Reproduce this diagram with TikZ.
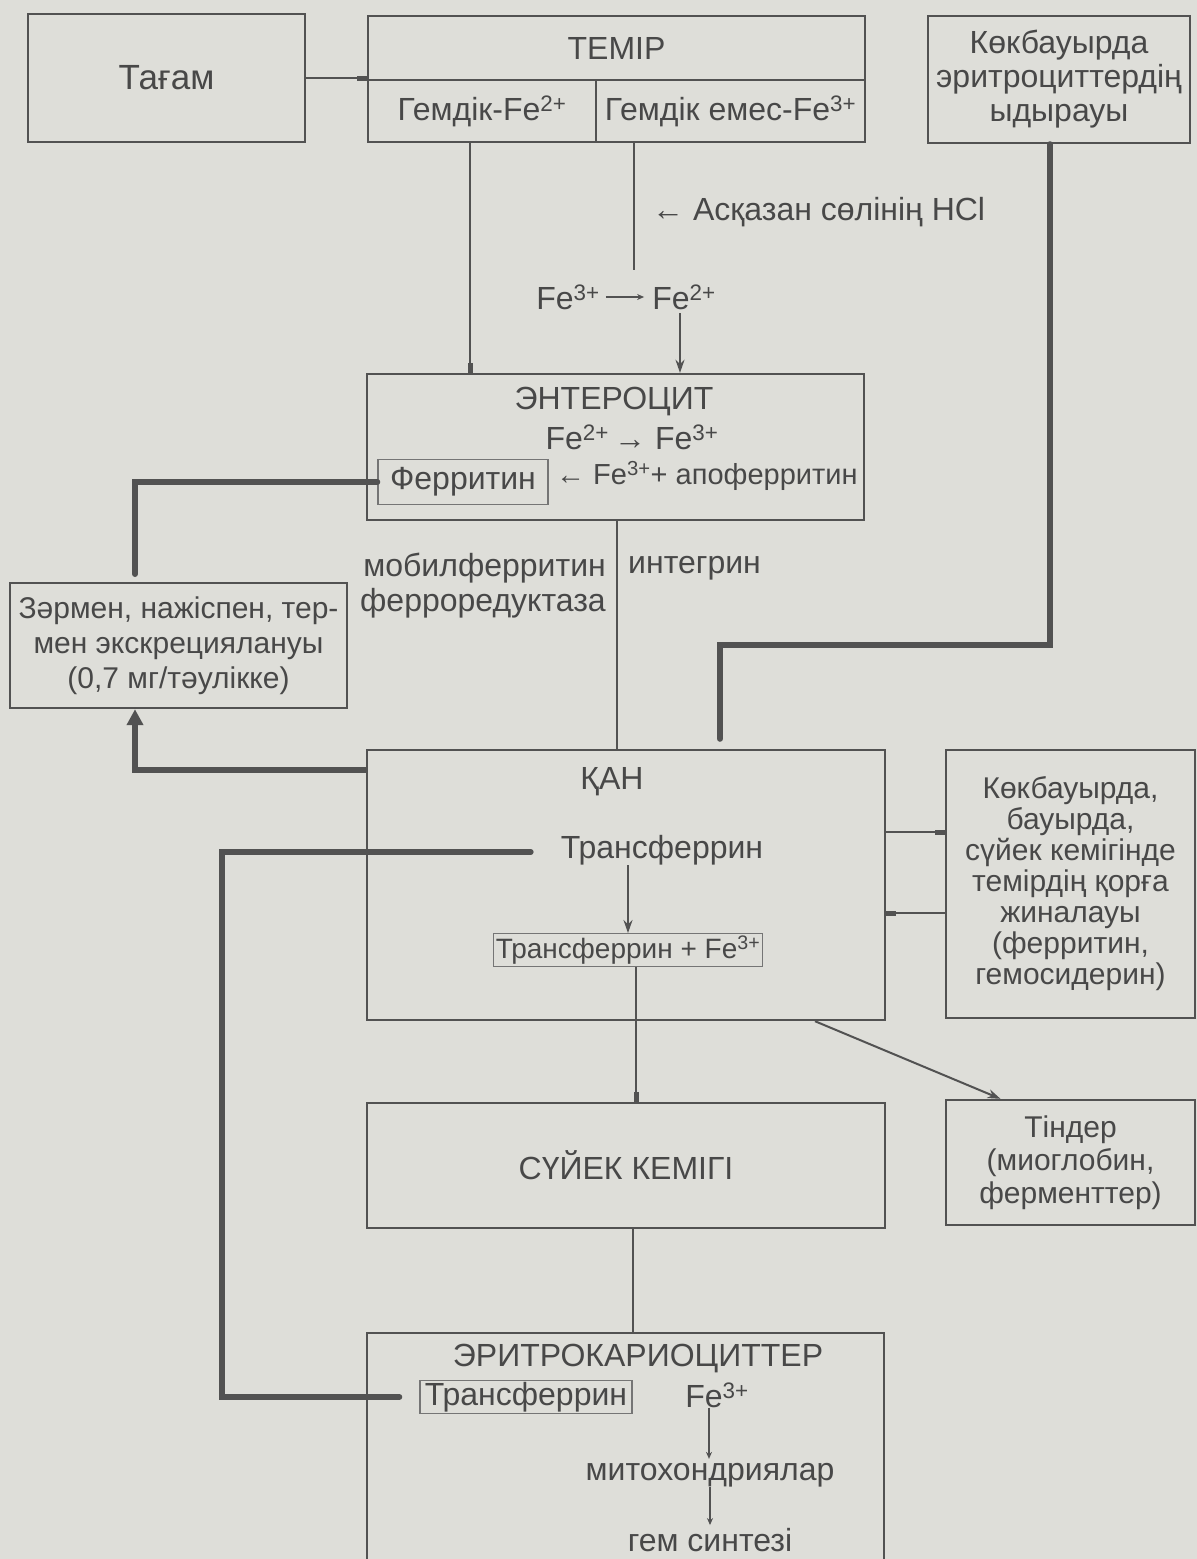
\documentclass[tikz,border=0pt]{standalone}
\usepackage{fontspec}
\setmainfont{Liberation Sans}
\usetikzlibrary{arrows.meta,calc}
\definecolor{paper}{RGB}{222,222,217}
\definecolor{ink}{RGB}{82,82,82}
\definecolor{txt}{RGB}{72,72,72}
\newcommand{\up}[1]{\textsuperscript{#1}}
\begin{document}
\begin{tikzpicture}[x=1pt,y=-1pt,
  font=\fontsize{32}{34}\selectfont, text=txt,
  box/.style={draw=ink, line width=2.4pt, inner sep=0pt, align=center},
  inbox/.style={draw=ink!80, line width=1.4pt, inner sep=3pt},
  lbl/.style={inner sep=0pt, align=center},
  wire/.style={draw=ink, line width=2pt},
  heavy/.style={draw=ink, line width=6pt},
  tip/.style={-{Stealth[length=13pt,width=9pt]}},
  smalltip/.style={-{Stealth[length=7pt,width=6pt]}},
  stub/.style={-{Rectangle[length=10pt,width=5pt]}},
  bigtip/.style={-{Triangle[length=16pt,width=16pt]}}]
% page
\useasboundingbox (0,0) rectangle (1197,1559);
\fill[paper] (0,0) rectangle (1197,1559);

% top row
\node[box, minimum width=277pt, minimum height=128pt, font=\fontsize{35}{38}\selectfont] (tagam) at (166.5,78) {Тағам};
\node[box, minimum width=497pt, minimum height=64pt] (temir) at (616.5,48) {ТЕМІР};
\node[box, minimum width=228pt, minimum height=62pt] (heme) at (482,111) {Гемдік-Fe\up{2+}};
\node[box, minimum width=269pt, minimum height=62pt] (nonheme) at (730.5,111) {Гемдік емес-Fe\up{3+}};
\node[box, minimum width=262pt, minimum height=127pt] (spleen) at (1059,79.5)
  {Көкбауырда\\эритроциттердің\\ыдырауы};

% reduction of non-heme iron
\node[lbl, anchor=west] (hcl) at (652,212) {← Асқазан сөлінің HCl};
\node[lbl] (feA) at (568,297) {Fe\up{3+}};
\node[lbl] (feB) at (684,297) {Fe\up{2+}};
\coordinate (hclstop) at (634,270);

% enterocyte
\node[box, minimum width=497pt, minimum height=146pt] (enter) at (615.5,447) {};
\node[lbl] (enterT) at (614,402) {ЭНТЕРОЦИТ};
\node[lbl] (enterFe) at (632,437) {Fe\up{2+}\,→ Fe\up{3+}};
\node[inbox, minimum width=170pt, minimum height=45pt] (ferritin) at (463,482) {Ферритин};
\node[lbl, anchor=west, font=\fontsize{29}{32}\selectfont] (apo) at (556,476) {← Fe\up{3+}+ апоферритин};

% transport labels
\node[lbl, anchor=east] (mob) at (606,568) {мобилферритин};
\node[lbl, anchor=west] (integ) at (628,568) {интегрин};
\node[lbl, anchor=east] (ferred) at (606,603) {ферроредуктаза};

% excretion
\node[box, minimum width=337pt, minimum height=125pt, font=\fontsize{30}{35}\selectfont] (excr) at (178.5,645.5)
  {Зәрмен, нажіспен, тер-\\мен экскрециялануы\\(0,7 мг/тәулікке)};

% blood
\node[box, minimum width=518pt, minimum height=270pt] (blood) at (626,885) {};
\node[lbl] (bloodT) at (612,782) {ҚАН};
\node[lbl] (trB) at (662,850) {Трансферрин};
\node[inbox, inner sep=2pt, font=\fontsize{28}{30}\selectfont] (tfFe) at (628,950) {Трансферрин + Fe\up{3+}};

% storage
\node[box, minimum width=249pt, minimum height=268pt, font=\fontsize{30}{31}\selectfont] (store) at (1070.5,884)
  {Көкбауырда,\\бауырда,\\сүйек кемігінде\\темірдің қорға\\жиналауы\\(ферритин,\\гемосидерин)};

% bone marrow and tissues
\node[box, minimum width=518pt, minimum height=125pt] (bone) at (626,1165.5) {СҮЙЕК КЕМІГІ};
\node[box, minimum width=249pt, minimum height=125pt, font=\fontsize{30}{33}\selectfont] (tissue) at (1070.5,1162.5)
  {Тіндер\\(миоглобин,\\ферменттер)};

% erythrokaryocytes (box runs past the page bottom)
\node[box, minimum width=517pt, minimum height=267pt] (ery) at (625.5,1466.5) {};
\node[lbl] (eryT) at (638,1358) {ЭРИТРОКАРИОЦИТТЕР};
\node[inbox, minimum width=212pt, minimum height=33pt, inner sep=0pt] (trE) at (526,1397) {Трансферрин};
\node[lbl] (feE) at (717,1395) {Fe\up{3+}};
\node[lbl] (mito) at (710,1475) {митохондриялар};
\node[lbl] (heme2) at (710,1540) {гем синтезі};

% bend points
\coordinate (sbend) at (720,645);
\coordinate (exIn) at (135,574);
\coordinate (exL) at (135,770);
\coordinate (rb) at (222,1397);
\coordinate (rt) at (222,852);

% connectors
\draw[wire, stub] (tagam.east) -- (tagam.east -| temir.west);
\draw[wire, stub] ([xshift=-12pt]heme.south) -- ([xshift=-12pt]heme.south |- enter.north);
\draw[wire] (hclstop |- nonheme.south) -- (hclstop);
\draw[wire, smalltip, line width=1.4pt, shorten <=6pt, shorten >=8pt] (feA.east) -- (feB.west);
\draw[wire, tip] ([xshift=-4pt,yshift=-16pt]feB.center) -- ([xshift=-4pt]feB.center |- enter.north);
\draw[heavy, line cap=round, shorten >=10pt] ([xshift=-9pt]spleen.south) |- (sbend) -- (sbend |- blood.north);
\draw[wire] ([xshift=1.5pt]enter.south) -- ([xshift=1.5pt]enter.south |- blood.north);
\draw[heavy, line cap=round] (ferritin.west) -| (exIn);
\draw[heavy, bigtip] (exL -| blood.west) -- (exL) -- (exL |- excr.south);
\draw[heavy, line cap=round] ([xshift=-20pt]trE.west) -- (rb) -- (rt) -- ([xshift=-30pt]rt -| trB.west);
\draw[wire, tip] (tfFe.north |- trB.south) -- (tfFe.north);
\draw[wire, stub] ([xshift=8pt]tfFe.south) -- ([xshift=8pt]tfFe.south |- bone.north);
\draw[wire, stub] ([yshift=53pt]blood.east) -- ([yshift=53pt]blood.east -| store.west);
\draw[wire, stub] ([yshift=-29pt]store.west) -- ([yshift=-29pt]store.west -| blood.east);
\draw[wire, tip] ([xshift=189pt]blood.south) -- ([xshift=-70pt]tissue.north);
\draw[wire] ([xshift=7pt]bone.south) -- ([xshift=7pt]bone.south |- ery.north);
\draw[wire, smalltip, line width=1.4pt, shorten >=4pt] ([xshift=-8pt]feE.south) -- ([xshift=-8pt]feE.south |- mito.north);
\draw[wire, smalltip, line width=1.4pt, shorten >=3pt] (mito.south) -- (heme2.north);
\end{tikzpicture}
\end{document}
